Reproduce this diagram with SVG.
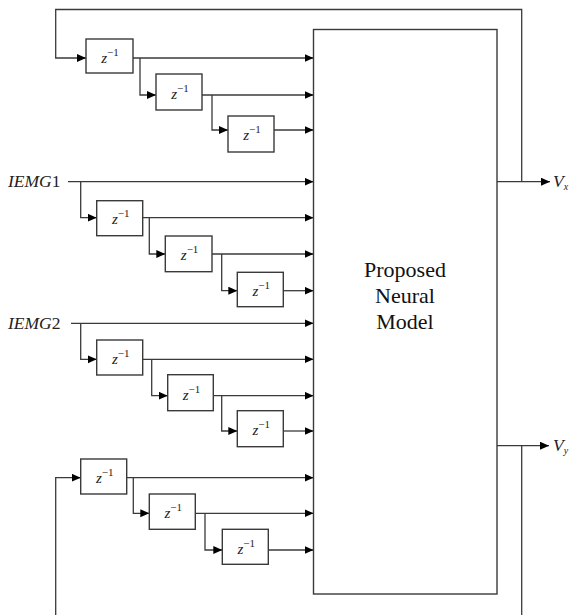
<svg xmlns="http://www.w3.org/2000/svg" width="569" height="615" viewBox="0 0 569 615">
<style>
.ln{fill:none;stroke:#3a3a3a;stroke-width:1.3}
.ar{fill:none;stroke:#3a3a3a;stroke-width:1.3;marker-end:url(#ah)}
.bx{fill:#fff;stroke:#3a3a3a;stroke-width:1.4}
.z{font-family:"Liberation Serif","Times New Roman",serif;font-size:15px;font-style:italic;fill:#222;text-anchor:middle}
.sup{font-size:11px;font-style:normal}
.lb{font-family:"Liberation Serif","Times New Roman",serif;font-size:17.5px;fill:#222}
.mt{font-family:"Liberation Serif","Times New Roman",serif;font-size:22px;fill:#111;text-anchor:middle}
</style>
<defs>
<marker id="ah" markerUnits="userSpaceOnUse" markerWidth="10" markerHeight="9" refX="9" refY="4" orient="auto">
<path d="M0,0 L9,4 L0,8 z" fill="#000"/>
</marker>
</defs>
<g id="connectors">
<polyline class="ar" points="521.7,181.7 521.7,9.5 55.7,9.5 55.7,58 86,58"/>
<line class="ar" x1="133" y1="58" x2="313.5" y2="58"/>
<polyline class="ar" points="140,58 140,95 156,95"/>
<line class="ar" x1="202" y1="95" x2="313.5" y2="95"/>
<polyline class="ar" points="212,95 212,130 228,130"/>
<line class="ar" x1="274" y1="130" x2="313.5" y2="130"/>
<line class="ar" x1="68" y1="181.7" x2="313.5" y2="181.7"/>
<polyline class="ar" points="80.7,181.7 80.7,217.7 96.7,217.7"/>
<line class="ar" x1="142.7" y1="217.7" x2="313.5" y2="217.7"/>
<polyline class="ar" points="149.3,217.7 149.3,254 165.3,254"/>
<line class="ar" x1="212" y1="254" x2="313.5" y2="254"/>
<polyline class="ar" points="221.7,254 221.7,290.7 237.3,290.7"/>
<line class="ar" x1="283.3" y1="290.7" x2="313.5" y2="290.7"/>
<line class="ar" x1="71" y1="323.3" x2="313.5" y2="323.3"/>
<polyline class="ar" points="80.7,323.3 80.7,359.3 96.7,359.3"/>
<line class="ar" x1="142.7" y1="359.3" x2="313.5" y2="359.3"/>
<polyline class="ar" points="151.7,359.3 151.7,395.7 167.7,395.7"/>
<line class="ar" x1="213.3" y1="395.7" x2="313.5" y2="395.7"/>
<polyline class="ar" points="221.7,395.7 221.7,431 237.3,431"/>
<line class="ar" x1="283.3" y1="431" x2="313.5" y2="431"/>
<line class="ln" x1="521.7" y1="445.7" x2="521.7" y2="615"/>
<polyline class="ar" points="55.7,615 55.7,477.7 80.7,477.7"/>
<line class="ar" x1="126.7" y1="477.7" x2="313.5" y2="477.7"/>
<polyline class="ar" points="133.3,477.7 133.3,513.3 149.3,513.3"/>
<line class="ar" x1="195.3" y1="513.3" x2="313.5" y2="513.3"/>
<polyline class="ar" points="205,513.3 205,550 222.3,550"/>
<line class="ar" x1="268.3" y1="550" x2="313.5" y2="550"/>
<line class="ar" x1="497" y1="181.7" x2="550" y2="181.7"/>
<line class="ar" x1="497" y1="445.7" x2="549" y2="445.7"/>
</g>
<g id="model">
<rect class="bx" x="313.5" y="29.5" width="183.5" height="564.5"/>
<text class="mt" x="405" y="277">Proposed</text>
<text class="mt" x="405" y="303">Neural</text>
<text class="mt" x="405" y="329">Model</text>
</g>
<g id="d1"><rect class="bx" x="86" y="39" width="47" height="34"/><text class="z" x="110" y="63">z<tspan class="sup" dy="-7">−1</tspan></text></g>
<g id="d2"><rect class="bx" x="156" y="74" width="46" height="36"/><text class="z" x="180" y="99">z<tspan class="sup" dy="-7">−1</tspan></text></g>
<g id="d3"><rect class="bx" x="228" y="116" width="46" height="36"/><text class="z" x="252" y="140">z<tspan class="sup" dy="-7">−1</tspan></text></g>
<g id="d4"><rect class="bx" x="96.7" y="200.7" width="46" height="35"/><text class="z" x="120.7" y="224">z<tspan class="sup" dy="-7">−1</tspan></text></g>
<g id="d5"><rect class="bx" x="165.3" y="236" width="46.7" height="35.7"/><text class="z" x="189.6" y="260">z<tspan class="sup" dy="-7">−1</tspan></text></g>
<g id="d6"><rect class="bx" x="237.3" y="272.3" width="46" height="34.4"/><text class="z" x="261.3" y="296">z<tspan class="sup" dy="-7">−1</tspan></text></g>
<g id="d7"><rect class="bx" x="96.7" y="340" width="46" height="35"/><text class="z" x="120.7" y="364">z<tspan class="sup" dy="-7">−1</tspan></text></g>
<g id="d8"><rect class="bx" x="167.7" y="374.7" width="45.6" height="36"/><text class="z" x="191.5" y="400">z<tspan class="sup" dy="-7">−1</tspan></text></g>
<g id="d9"><rect class="bx" x="237.3" y="410.7" width="46" height="36"/><text class="z" x="261.3" y="435">z<tspan class="sup" dy="-7">−1</tspan></text></g>
<g id="d10"><rect class="bx" x="80.7" y="459" width="46" height="35"/><text class="z" x="104.7" y="483">z<tspan class="sup" dy="-7">−1</tspan></text></g>
<g id="d11"><rect class="bx" x="149.3" y="494" width="46" height="35.3"/><text class="z" x="173.3" y="518">z<tspan class="sup" dy="-7">−1</tspan></text></g>
<g id="d12"><rect class="bx" x="222.3" y="529.3" width="46" height="35"/><text class="z" x="246.3" y="554">z<tspan class="sup" dy="-7">−1</tspan></text></g>
<g id="in1"><text class="lb" x="8" y="187"><tspan font-style="italic">IEMG</tspan>1</text></g>
<g id="in2"><text class="lb" x="8" y="329"><tspan font-style="italic">IEMG</tspan>2</text></g>
<g id="vx"><text class="lb" x="553" y="187" font-size="17"><tspan font-style="italic">V</tspan><tspan font-style="italic" font-size="10" dy="3">x</tspan></text></g>
<g id="vy"><text class="lb" x="553" y="451" font-size="17"><tspan font-style="italic">V</tspan><tspan font-style="italic" font-size="10" dy="3">y</tspan></text></g>
</svg>
